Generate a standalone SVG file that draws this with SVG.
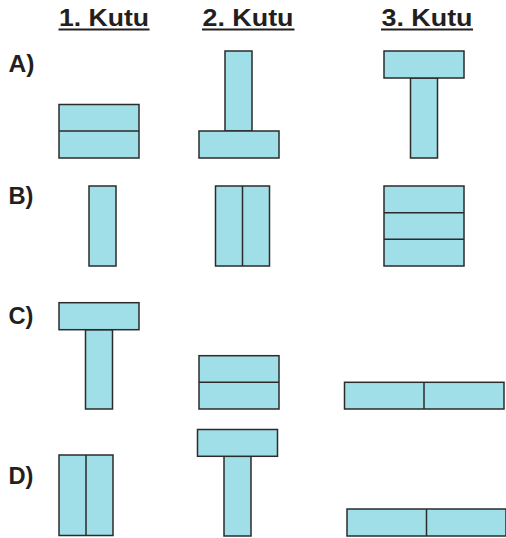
<svg xmlns="http://www.w3.org/2000/svg" width="506" height="538" viewBox="0 0 506 538">
<style>
.b{fill:#a0dfe7;stroke:#2b2b2b;stroke-width:1.5}
.d{stroke:#2b2b2b;stroke-width:1.5;fill:none}
.h{font-family:"Liberation Sans",Arial,sans-serif;font-weight:bold;font-size:24px;fill:#231f20}
.u{stroke:#231f20;stroke-width:2}
</style>
<rect width="506" height="538" fill="#ffffff"/>
<g id="headers">
<text class="h" x="59" y="26" textLength="90" lengthAdjust="spacingAndGlyphs">1. Kutu</text>
<line class="u" x1="58.5" y1="29.5" x2="149.5" y2="29.5"/>
<text class="h" x="202.5" y="26" textLength="91" lengthAdjust="spacingAndGlyphs">2. Kutu</text>
<line class="u" x1="202" y1="29.5" x2="294.5" y2="29.5"/>
<text class="h" x="381.5" y="26" textLength="91" lengthAdjust="spacingAndGlyphs">3. Kutu</text>
<line class="u" x1="381" y1="29.5" x2="473" y2="29.5"/>
</g>
<g id="labels">
<text class="h" x="8.5" y="72" textLength="26" lengthAdjust="spacingAndGlyphs">A)</text>
<text class="h" x="8.5" y="203.5" textLength="25" lengthAdjust="spacingAndGlyphs">B)</text>
<text class="h" x="8.5" y="323.5" textLength="25" lengthAdjust="spacingAndGlyphs">C)</text>
<text class="h" x="8.5" y="483.5" textLength="25" lengthAdjust="spacingAndGlyphs">D)</text>
</g>
<g id="A1">
<rect class="b" x="59" y="104.5" width="80" height="53.5"/>
<line class="d" x1="59" y1="131" x2="139" y2="131"/>
</g>
<g id="A2">
<rect class="b" x="225" y="51" width="27" height="80"/>
<rect class="b" x="199" y="131" width="80" height="27"/>
</g>
<g id="A3">
<rect class="b" x="410.5" y="78" width="27" height="80"/>
<rect class="b" x="384" y="51" width="80" height="27"/>
</g>
<g id="B1">
<rect class="b" x="89" y="186" width="27" height="80"/>
</g>
<g id="B2">
<rect class="b" x="215.5" y="186" width="54" height="80"/>
<line class="d" x1="242.5" y1="186" x2="242.5" y2="266"/>
</g>
<g id="B3">
<rect class="b" x="384" y="186" width="80" height="80"/>
<line class="d" x1="384" y1="212.7" x2="464" y2="212.7"/>
<line class="d" x1="384" y1="239.3" x2="464" y2="239.3"/>
</g>
<g id="C1">
<rect class="b" x="85.5" y="329.7" width="27" height="79.3"/>
<rect class="b" x="59" y="302.7" width="80" height="27"/>
</g>
<g id="C2">
<rect class="b" x="199" y="355.7" width="80" height="53.3"/>
<line class="d" x1="199" y1="382.3" x2="279" y2="382.3"/>
</g>
<g id="C3">
<rect class="b" x="344.5" y="382.3" width="159.5" height="26.7"/>
<line class="d" x1="424" y1="382.3" x2="424" y2="409"/>
</g>
<g id="D1">
<rect class="b" x="59" y="455" width="54" height="80.5"/>
<line class="d" x1="86" y1="455" x2="86" y2="535.5"/>
</g>
<g id="D2">
<rect class="b" x="224" y="456.3" width="27" height="79.7"/>
<rect class="b" x="197.5" y="429.5" width="80" height="26.8"/>
</g>
<g id="D3">
<rect class="b" x="347" y="509" width="159" height="27"/>
<line class="d" x1="426.5" y1="509" x2="426.5" y2="536"/>
</g>
</svg>
